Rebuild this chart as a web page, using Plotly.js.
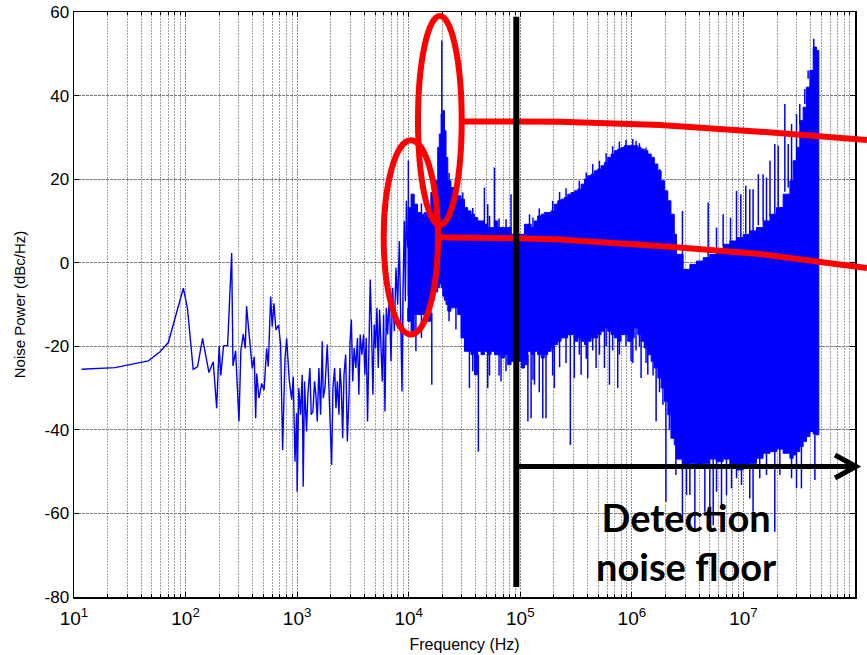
<!DOCTYPE html>
<html>
<head>
<meta charset="utf-8">
<script src="https://cdn.plot.ly/plotly-3.0.1.min.js"></script>
<style>
  html, body { margin: 0; padding: 0; background: #ffffff; }
  #chart { width: 867px; height: 655px; }
</style>
</head>
<body>
<div id="chart"></div>
<script>
// Phase-noise spectrum, low-frequency sweep (single trace, 10 Hz - 10 kHz)
const sweepFreq = [11.7, 23.3, 46.4, 59, 70, 95.5, 104, 117, 128, 142, 162, 177, 190, 200, 207, 219, 238, 259, 266, 281,
  301, 313, 329, 343, 352, 372, 396, 413, 425, 434, 455, 481, 505, 533, 551, 579, 598, 620, 646, 682,
  711, 741, 778, 805, 850, 893, 923, 956, 990,
  1000, 1035, 1072, 1110, 1133, 1165, 1213, 1248, 1301, 1337, 1384, 1432, 1472, 1514, 1567, 1622, 1679, 1714, 1774, 1862,
  1928, 1995, 2037, 2094, 2168, 2229, 2291, 2371, 2421, 2489, 2559, 2630, 2723, 2818, 2917, 2979, 3062, 3148, 3243, 3357,
  3475, 3573, 3673, 3802, 3936, 4046, 4159, 4276, 4395, 4519, 4645, 4775, 4909, 5047, 5188, 5333, 5483, 5636, 5794, 5957,
  6124, 6295, 6471, 6699, 6934, 7178, 7430, 7691, 7962, 8241, 8531, 8710, 8892, 9141, 9333, 9528, 9795];
const sweepPower = [-25.5, -25.1, -23.5, -21.3, -19.1, -6.1, -10.9, -25.5, -24.9, -18.1, -26.3, -23.7, -34.8, -19.9, -27.0, -19.9, -19.8, 2.3, -24.7, -21.1,
  -38.0, -21.1, -17.1, -20.5, -10.4, -17.9, -25.3, -22.5, -37.2, -26.5, -32.4, -28.9, -30.5, -20.5, -24.9, -8.1, -15.3, -9.7, -16.1, -14.9,
  -19.7, -44.8, -23.1, -18.1, -28.1, -32.8, -27.3, -47.6, -36.0,
  -54.8, -30, -36.4, -26.8, -53.6, -28.4, -40.4, -31.6, -25.2, -36.4, -35.6, -28.4, -31.6, -38, -25.2, -36.4, -18.8, -32.4, -30, -19.6,
  -30, -44.4, -48.4, -30, -25.2, -34.8, -28.4, -36.4, -25.2, -30, -42, -26.8, -22, -42.8, -31.6, -18.8, -13.6, -28.4, -20.4, -25.2,
  -18, -31.6, -17.2, -22, -17.2, -26.8, -18, -38, -22, -4, -15.6, -31.6, -14.8, -20.4, -10.8, -25.2, -11.2, -18, -28.4, -12.4,
  -35.6, -10.8, -17.2, -7.6, -23.6, -6, -16.4, -1.2, -10, 5.2, -14, -30.8, -6, 10, -9.2, 14.8, 3.6];

// Dense high-frequency part: upper and lower envelope of the noise band
const bandFreq = [9.8e3, 1.05e4, 1.12e4, 1.20e4, 1.29e4, 1.38e4, 1.48e4, 1.58e4, 1.70e4, 1.82e4, 1.88e4, 1.95e4, 2.02e4, 2.09e4, 2.16e4, 2.24e4,
  2.39e4, 2.57e4, 2.75e4, 2.94e4, 3.16e4, 3.38e4, 3.62e4, 3.88e4, 4.15e4, 4.45e4, 4.77e4, 5.11e4, 5.47e4, 5.86e4, 6.27e4, 6.72e4,
  7.20e4, 7.71e4, 8.26e4, 8.85e4, 9.48e4, 1.02e5, 1.09e5,
  1.17e5, 1.25e5, 1.34e5, 1.43e5, 1.54e5, 1.64e5, 1.76e5, 1.89e5, 2.02e5, 2.17e5, 2.32e5, 2.48e5, 2.66e5, 2.85e5, 3.05e5, 3.27e5,
  3.51e5, 3.76e5, 4.02e5, 4.31e5, 4.62e5, 4.94e5, 5.30e5, 5.68e5, 6.08e5, 6.51e5, 6.97e5, 7.47e5, 8.00e5, 8.57e5, 9.18e5, 9.84e5,
  1.05e6, 1.13e6, 1.21e6, 1.29e6, 1.39e6, 1.49e6, 1.59e6, 1.71e6, 1.83e6, 1.96e6, 2.10e6, 2.24e6, 2.40e6,
  2.51e6, 2.88e6, 3.31e6, 3.80e6, 4.36e6, 5.0e6, 5.74e6, 6.58e6, 7.55e6, 8.67e6, 9.95e6, 1.14e7, 1.31e7, 1.50e7, 1.73e7, 1.98e7,
  2.27e7, 2.61e7, 2.79e7, 2.99e7, 3.20e7, 3.43e7, 3.67e7, 3.94e7, 4.22e7, 4.52e7, 4.74e7];
const bandTop = [13.2, 16.4, 14, 12, 11.6, 12, 10.8, 16.8, 19.6, 27.6, 30.8, 35.6, 36.4, 31.6, 25.2, 19.6,
  18, 16.4, 16, 15.2, 13.2, 12.4, 11.6, 10.8, 10, 10, 9.2, 8.4, 8.4, 10, 8.4, 8.4,
  8.4, 8.4, 6.8, 6.8, 6.8, 6.8, 9.2,
  9.2, 8.4, 10, 11.2, 11.6, 12, 12, 12.4, 14, 14.8, 15.2, 15.6, 16.4, 16.8, 17.2, 17.6,
  18.8, 20, 20.8, 21.2, 22, 22.4, 23.2, 24, 25.2, 26, 26.8, 27.2, 27.6, 28, 28, 28,
  28, 27.6, 27.2, 26.8, 26, 25.2, 23.6, 22, 19.6, 17.2, 14.8, 11.6, 6.8,
  2, -1.6, -0.4, 0.4, 1.2, 2, 2.8, 4.4, 5.2, 6, 6.8, 7.6, 8.4, 10, 11.6, 13.2,
  16.4, 19.6, 24.4, 27.6, 34, 37.2, 42, 46, 51.6, 50.8, 46];
const bandBottom = [-10.8, -14, -16.4, -12.4, -12.4, -12.4, -14, -14, -9, -7, -6, -5, -6, -8, -9, -10,
  -11.6, -10.8, -10.8, -12.4, -18, -21.2, -21.2, -22, -26.8, -21.2, -22, -21.2, -22, -21.2, -22, -22,
  -22.8, -22, -24.4, -23.6, -23.6, -23.6, -25.2,
  -24.4, -21.2, -22, -21.2, -22, -22.8, -22, -21.2, -20.4, -19.6, -18.8, -18, -18, -17.2, -17.2, -18.8,
  -18, -18.8, -19.6, -18.8, -18, -18, -17.2, -16.4, -15.6, -16.4, -17.2, -18, -18.8, -17.2, -17.2, -18.8,
  -18, -15.6, -17.2, -18.8, -20.4, -22, -23.6, -25.2, -27.6, -30, -33.2, -36.4, -42,
  -43.6, -47, -49, -48, -49, -48, -47, -47.6, -47, -49, -49.6, -48.8, -48, -46.8, -45.6, -45.2,
  -44.6, -45.6, -46.8, -46, -45.2, -44, -42.8, -41.6, -40.4, -41, -41.2];

// Isolated spurs and dips reaching beyond the band
const spikeFreq = [9.93e3, 1.16e4, 1.61e4, 1.98e4, 3.50e4, 4.21e4, 4.77e4, 5.11e4, 5.86e4, 6.72e4, 8.26e4,
  1.17e5, 1.21e5, 1.25e5, 1.34e5, 1.59e5, 1.70e5, 2.02e5, 2.81e5, 3.05e5, 3.51e5, 4.02e5, 4.78e5, 5.68e5, 6.30e5, 7.47e5, 9.84e5,
  1.21e6, 1.39e6, 1.65e6, 2.02e6, 2.48e6, 2.84e6, 3.09e6, 3.31e6, 3.67e6, 4.51e6, 4.83e6, 5.00e6, 5.36e6, 5.74e6, 6.36e6, 6.58e6,
  7.05e6, 7.66e6, 7.82e6, 8.67e6, 9.48e6, 9.61e6, 1.05e7, 1.14e7, 1.22e7, 1.36e7, 1.40e7, 1.50e7, 1.61e7, 1.73e7, 1.91e7, 2.05e7,
  2.12e7, 2.35e7, 2.52e7, 2.70e7, 2.99e7, 3.20e7, 3.31e7, 3.55e7, 3.80e7, 4.27e7, 4.37e7,
  // finer serration along the hump and the 10-100 kHz shelf
  1.30e4, 2.30e4, 2.65e4, 3.05e4, 3.75e4, 5.30e4, 6.45e4, 7.45e4, 9.15e4, 1.30e5, 1.48e5, 1.95e5, 2.25e5, 2.57e5, 3.38e5, 3.90e5,
  4.46e5, 5.12e5, 5.88e5, 6.73e5, 7.73e5, 8.86e5, 1.02e6, 1.09e6, 1.17e6, 1.34e6, 1.55e6, 1.77e6, 1.90e6, 2.17e6];
const spikeLow = [-8, -21.2, -29.2, -5, -30, -45.2, 8, -30, 8, -28.4, 6,
  -38, 8, -37.2, -29.2, -37.2, -37.2, -30, -43.6, -27.6, -26.8, -27.6, -25.2, -25.2, -29.2, -30, -23.6,
  -27.6, -26.8, -38, -57.2, -50.8, -61.2, -55.6, -55.6, -64.4, -59.6, 1, -61.2, -62.8, -54.8, -58.8, 4,
  -55.6, 5, -54, -51.6, 6, -53.2, 7, -56.4, -59.6, 9, -51.6, 10, -50.8, 11, -64.4, 13,
  -50.8, 17, 18, -51.6, -54, 33, -54, 38, 44, 50, -52,
  -18, -14, -16, -18, -26, -27, -27, -26, -30, -28, -31, -27, -25, -24, -22, -23,
  -21, -22, -20, -21, -22, -20, -24, -21, -20, -24, -27, -31, -34, -40];
const spikeHigh = [24.4, -12, -12, 53.2, -20, -22, 18, 14, 22.8, -20, 16.4,
  -22, 11.6, -20, -20, -20, -20, -18, -16, -16, -16, -17, -16, -15, -15, -16, -16,
  -16, -18, -22, -30, -43, 12.4, -48, -48, -48, -48, 14.4, -48, -47, 8.4, -47, 11.6,
  -47, 10.8, -47, 17.2, 16.4, -49, 18.4, 17.6, 17.6, 21.2, -46, 21.2, 20.4, 24.4, 28.4, 28,
  -44, 38, 28.4, 33.2, 35.6, 38, -44, 41.6, 46, 53.6, -40,
  14.2, 21.5, 18.2, 16.8, 13.1, 11.2, 10.6, 10.4, 9.4, 10.8, 13, 14.8, 16.9, 17.8, 19.6, 21.6,
  23.6, 24.4, 26.2, 27.9, 29, 29.4, 29.6, 29.2, 28.6, 27.6, 25.2, 22.4, 19.4, 14.6];

// Axis ticks
const xTickVals = [1e1, 1e2, 1e3, 1e4, 1e5, 1e6, 1e7, 1e8];
const xTickText = ['10<sup>1</sup>', '10<sup>2</sup>', '10<sup>3</sup>', '10<sup>4</sup>', '10<sup>5</sup>', '10<sup>6</sup>', '10<sup>7</sup>', '10<sup>8</sup>'];
const yTickVals = [-80, -60, -40, -20, 0, 20, 40, 60];
const yTickText = ['-80', '-60', '-40', '-20', '0', '20', '40', '60'];

// 2..9 within each decade of the frequency axis
const xMinorVals = [];
for (let d = 1; d < 8; d++) {
  for (let m = 2; m <= 9; m++) xMinorVals.push(m * Math.pow(10, d));
}

const BLUE = '#0000ff';
const RED = '#ff0000';

// closed outline of the band: upper edge left-to-right, lower edge back
const bandX = bandFreq.concat(bandFreq.slice().reverse());
const bandY = bandTop.concat(bandBottom.slice().reverse());

// spurs as separate vertical strokes
const spikeX = [], spikeY = [];
spikeFreq.forEach(function (f, i) {
  spikeX.push(f, f, null);
  spikeY.push(spikeLow[i], spikeHigh[i], null);
});

const traces = [
  { x: bandX, y: bandY, type: 'scatter', mode: 'lines', fill: 'toself', fillcolor: BLUE,
    line: { color: BLUE, width: 1, shape: 'hv' }, hoverinfo: 'skip', showlegend: false },
  { x: spikeX, y: spikeY, type: 'scatter', mode: 'lines',
    line: { color: BLUE, width: 1.5 }, hoverinfo: 'skip', showlegend: false },
  { x: sweepFreq, y: sweepPower, type: 'scatter', mode: 'lines',
    line: { color: BLUE, width: 1.4 }, showlegend: false }
];

const FONT = 'Liberation Sans, Arial, sans-serif';

// plot-area helpers for the hand-drawn markup (paper units)
const L = 74, R = 855, T = 12, B = 597;
const px = v => (v - L) / (R - L);
const py = v => (B - v) / (B - T);
const pathOf = pts => pts.map((p, i) => (i ? 'L' : 'M') + px(p[0]).toFixed(4) + ',' + py(p[1]).toFixed(4)).join(' ');

const shapes = [
  // red ellipses round the two spur clusters
  { type: 'circle', xref: 'paper', yref: 'paper', x0: px(418), x1: px(461.7), y0: py(225), y1: py(16),
    line: { color: RED, width: 6 } },
  { type: 'circle', xref: 'paper', yref: 'paper', x0: px(383.7), x1: px(438), y0: py(334.5), y1: py(140.3),
    line: { color: RED, width: 6 } },
  // red leader lines
  { type: 'path', xref: 'paper', yref: 'paper',
    path: pathOf([[461, 121.5], [560, 121.7], [660, 125], [760, 131.7], [867, 140]]),
    line: { color: RED, width: 6 } },
  { type: 'path', xref: 'paper', yref: 'paper',
    path: pathOf([[437, 237.3], [520, 238.3], [560, 239.5], [670, 246.7], [760, 254], [830, 263.3], [867, 268]]),
    line: { color: RED, width: 6 } },
  // detection limit marker and arrow
  { type: 'line', xref: 'paper', yref: 'paper', x0: px(516.3), x1: px(516.3), y0: py(587), y1: py(16.7),
    line: { color: '#000000', width: 6 } },
  { type: 'line', xref: 'paper', yref: 'paper', x0: px(516.3), x1: px(853), y0: py(466.5), y1: py(466.5),
    line: { color: '#000000', width: 5 } },
  { type: 'path', xref: 'paper', yref: 'paper',
    path: pathOf([[835, 455], [856, 466.5], [835, 478]]),
    line: { color: '#000000', width: 5 } }
];

const axisCommon = {
  showline: true, linecolor: '#000000', linewidth: 1.5, mirror: 'ticks',
  ticks: 'inside', ticklen: 5, tickwidth: 1, tickcolor: '#000000',
  showgrid: true, gridwidth: 1,
  zeroline: false, automargin: false,
  tickfont: { family: FONT, size: 16, color: '#000000' }
};

const layout = {
  width: 867, height: 655,
  margin: { l: 74, r: 12, t: 12, b: 58 },
  paper_bgcolor: '#ffffff', plot_bgcolor: '#ffffff',
  showlegend: false,
  font: { family: FONT, color: '#000000' },
  xaxis: Object.assign({}, axisCommon, {
    type: 'log', range: [1, 8],
    tickmode: 'array', tickvals: xTickVals, ticktext: xTickText,
    gridcolor: '#8c8c8c', griddash: '2px,1px',
    tickfont: { family: FONT, size: 19, color: '#000000' },
    ticklabelstandoff: 4,
    minor: { tickmode: 'array', tickvals: xMinorVals, ticks: 'inside', ticklen: 3, tickcolor: '#000000',
             showgrid: true, gridcolor: '#a2a2a2', gridwidth: 1, griddash: '2px,1px' },
    title: { text: 'Frequency (Hz)', font: { family: FONT, size: 16, color: '#000000' }, standoff: 10 }
  }),
  yaxis: Object.assign({}, axisCommon, {
    range: [-80, 60],
    tickmode: 'array', tickvals: yTickVals, ticktext: yTickText,
    gridcolor: '#7a7a7a', griddash: '3px,1px',
    tickfont: { family: FONT, size: 17, color: '#000000' },
    ticklabelstandoff: 0,
    title: { text: 'Noise Power (dBc/Hz)', font: { family: FONT, size: 15, color: '#000000' }, standoff: 15 }
  }),
  shapes: shapes,
  annotations: [
    { xref: 'paper', yref: 'paper', x: px(686.5), y: py(541), xanchor: 'center', yanchor: 'middle',
      text: 'Detection<br>noise floor', showarrow: false, align: 'center',
      font: { family: 'Lato, Open Sans, sans-serif', size: 38, weight: 700, color: '#000000' } }
  ]
};

Plotly.newPlot('chart', traces, layout, { staticPlot: true, displayModeBar: false });
</script>
</body>
</html>
